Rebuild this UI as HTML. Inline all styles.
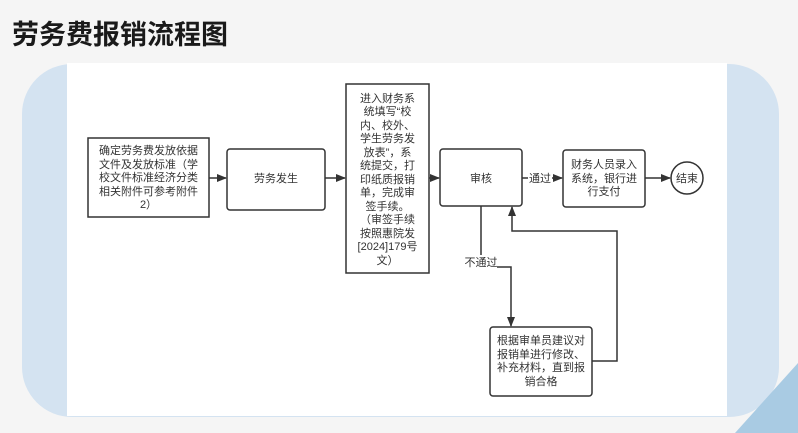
<!DOCTYPE html>
<html><head><meta charset="utf-8"><style>
html,body{margin:0;padding:0;width:798px;height:433px;overflow:hidden;background:#f5f5f5}
svg{display:block}
text{font-family:"Liberation Sans","Noto Sans CJK SC",sans-serif;font-size:11px;fill:#333;text-anchor:middle}
</style></head><body>
<svg width="798" height="433" viewBox="0 0 798 433">
<defs><marker id="a" markerWidth="10" markerHeight="8" refX="9" refY="4" orient="auto" markerUnits="userSpaceOnUse"><path d="M0,0 L10,4 L0,8 z" fill="#333"/></marker></defs>
<rect x="0" y="0" width="798" height="433" fill="#f5f5f5"/>
<text x="12" y="44" style="font-size:27px;font-weight:bold;fill:#1a1a1a;text-anchor:start">劳务费报销流程图</text>
<rect x="22" y="64" width="757" height="353" rx="50" fill="#d4e3f1"/>
<polygon points="735,433 798,363 798,433" fill="#a9cbe3"/>
<rect x="67" y="63" width="660" height="353" fill="#fff"/>
<g fill="#fff" stroke="#333" stroke-width="1.5">
<rect x="88" y="138" width="121" height="79"/>
<rect x="227" y="149" width="98" height="61" rx="3"/>
<rect x="346" y="84" width="83" height="189"/>
<rect x="440" y="149" width="82" height="57" rx="3"/>
<rect x="563" y="150" width="82" height="57" rx="3"/>
<circle cx="687" cy="178" r="16"/>
<rect x="490" y="327" width="102" height="69" rx="3"/>
</g>
<g stroke="#333" stroke-width="1.5" fill="none">
<line x1="209" y1="178" x2="226" y2="178" marker-end="url(#a)"/>
<line x1="325" y1="178" x2="345" y2="178" marker-end="url(#a)"/>
<line x1="429" y1="178" x2="439" y2="178" marker-end="url(#a)"/>
<line x1="522" y1="178" x2="562" y2="178" marker-end="url(#a)"/>
<line x1="645" y1="178" x2="670" y2="178" marker-end="url(#a)"/>
<polyline points="481,206 481,267 511,267 511,326" marker-end="url(#a)"/>
<polyline points="592,361 617,361 617,231 512,231 512,207" marker-end="url(#a)"/>
</g>
<rect x="528" y="171" width="24" height="14" fill="#fff"/>
<text x="540" y="182">通过</text>
<rect x="465" y="255" width="32" height="14" fill="#fff"/>
<text x="481" y="266">不通过</text>
<text x="148.5" y="154">确定劳务费发放依据</text>
<text x="148.5" y="168">文件及发放标准（学</text>
<text x="148.5" y="181">校文件标准经济分类</text>
<text x="148.5" y="195">相关附件可参考附件</text>
<text x="148.5" y="208">2）</text>
<text x="276" y="182">劳务发生</text>
<g>
<text x="387.5" y="102">进入财务系</text>
<text x="387.5" y="115">统填写“校</text>
<text x="387.5" y="129">内、校外、</text>
<text x="387.5" y="142">学生劳务发</text>
<text x="387.5" y="156">放表”，系</text>
<text x="387.5" y="169">统提交，打</text>
<text x="387.5" y="183">印纸质报销</text>
<text x="387.5" y="196">单，完成审</text>
<text x="387.5" y="210">签手续。</text>
<text x="387.5" y="223">（审签手续</text>
<text x="387.5" y="237">按照惠院发</text>
<text x="387.5" y="250">[2024]179号</text>
<text x="387.5" y="264">文）</text>
</g>
<text x="481" y="182">审核</text>
<text x="604" y="168">财务人员录入</text>
<text x="604" y="182">系统，银行进</text>
<text x="604" y="195">行支付</text>
<text x="687" y="182">结束</text>
<text x="541" y="344">根据审单员建议对</text>
<text x="541" y="358">报销单进行修改、</text>
<text x="541" y="371">补充材料，直到报</text>
<text x="541" y="385">销合格</text>
</svg>
</body></html>
